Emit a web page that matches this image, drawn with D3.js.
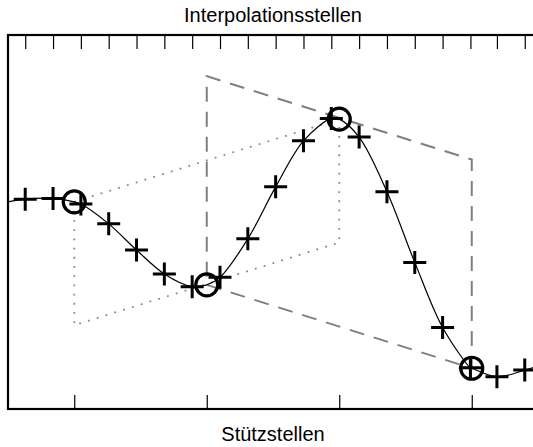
<!DOCTYPE html>
<html>
<head>
<meta charset="utf-8">
<script src="https://cdn.jsdelivr.net/npm/d3@7"></script>
<style>
  body { margin: 0; background: #fff; }
  text { font-family: 'Liberation Sans', Arial, sans-serif; }
</style>
</head>
<body>
<div id="chart"></div>
<script>
// Stützstellen (nodes) and values
let nodeX = [1, 2, 3, 4]
let nodeY = [5.54, 3.32, 7.75, 1.09]

// Interpolationsstellen (+ markers), also the top tick positions
let plusX = [0.63, 0.84, 1.05, 1.26, 1.47, 1.68, 1.89, 2.1, 2.31, 2.52, 2.73, 2.94, 3.15, 3.36, 3.57, 3.78, 3.99, 4.19, 4.4]
let plusY = [5.61, 5.63, 5.48, 4.95, 4.25, 3.61, 3.27, 3.52, 4.55, 5.94, 7.17, 7.77, 7.27, 5.81, 3.92, 2.18, 1.1, 0.86, 1.04]

// curve values at the plot edges
let edgeX = [0.5, 4.5]
let edgeY = [5.54, 1.15]

// parallelogram offsets (dotted below nodes 1-3, dashed above nodes 2-4)
let dottedShift = -3.3
let dashedShift = 5.58

let width = 533
let height = 447
let margin = { top: 35, left: 8, right: -5, bottom: 38 }

let svg = d3
  .select('#chart')
  .append('svg')
  .attr('width', width)
  .attr('height', height)

let x = d3
  .scaleLinear()
  .domain([0.5, 4.5])
  .range([margin.left, width - margin.right])

let y = d3
  .scaleLinear()
  .domain([0, 10])
  .range([height - margin.bottom, margin.top])

let line = d3
  .line()
  .x(d => x(d[0]))
  .y(d => y(d[1]))

// parallelograms
let dotted = [
  [nodeX[0], nodeY[0]],
  [nodeX[2], nodeY[2]],
  [nodeX[2], nodeY[2] + dottedShift],
  [nodeX[0], nodeY[0] + dottedShift],
  [nodeX[0], nodeY[0]]
]
let dashed = [
  [nodeX[1], nodeY[1]],
  [nodeX[3], nodeY[3]],
  [nodeX[3], nodeY[3] + dashedShift],
  [nodeX[1], nodeY[1] + dashedShift],
  [nodeX[1], nodeY[1]]
]

svg
  .append('path')
  .attr('d', line(dotted))
  .attr('fill', 'none')
  .attr('stroke', '#888')
  .attr('stroke-width', 1.8)
  .attr('stroke-dasharray', '1.8,7.4')

svg
  .append('path')
  .attr('d', line(dashed))
  .attr('fill', 'none')
  .attr('stroke', '#7f7f7f')
  .attr('stroke-width', 2)
  .attr('stroke-dasharray', '15,10')

// interpolating curve through all points
let curvePts = edgeX
  .map((d, i) => [d, edgeY[i]])
  .concat(nodeX.map((d, i) => [d, nodeY[i]]))
  .concat(plusX.map((d, i) => [d, plusY[i]]))
  .sort((a, b) => a[0] - b[0])

svg
  .append('path')
  .attr('d', line.curve(d3.curveCatmullRom.alpha(0.5))(curvePts))
  .attr('fill', 'none')
  .attr('stroke', 'black')
  .attr('stroke-width', 1.2)

// + markers
svg
  .selectAll('.plus')
  .data(plusX.map((d, i) => [d, plusY[i]]))
  .enter()
  .append('path')
  .attr('class', 'plus')
  .attr('d', 'M-11.5,0H11.5M0,-11.5V11.5')
  .attr('transform', d => `translate(${x(d[0])},${y(d[1])})`)
  .attr('stroke', 'black')
  .attr('stroke-width', 3)

// circle markers
svg
  .selectAll('.node')
  .data(nodeX.map((d, i) => [d, nodeY[i]]))
  .enter()
  .append('circle')
  .attr('class', 'node')
  .attr('cx', d => x(d[0]))
  .attr('cy', d => y(d[1]))
  .attr('r', 11)
  .attr('fill', 'none')
  .attr('stroke', 'black')
  .attr('stroke-width', 3.2)

// axes: ticks point inward
let topAxis = svg
  .append('g')
  .attr('transform', `translate(0,${margin.top})`)
  .call(d3.axisTop(x).tickValues(plusX).tickSize(-14).tickFormat(''))

let bottomAxis = svg
  .append('g')
  .attr('transform', `translate(0,${height - margin.bottom})`)
  .call(d3.axisBottom(x).tickValues(nodeX).tickSize(-14).tickFormat(''))

topAxis.select('.domain').remove()
bottomAxis.select('.domain').remove()
svg.selectAll('.tick line').attr('stroke', 'black').attr('stroke-width', 1.2)

// frame
svg
  .append('rect')
  .attr('x', x(0.5))
  .attr('y', y(10))
  .attr('width', x(4.5) - x(0.5))
  .attr('height', y(0) - y(10))
  .attr('fill', 'none')
  .attr('stroke', 'black')
  .attr('stroke-width', 2.2)

// labels
svg
  .append('text')
  .text('Interpolationsstellen')
  .attr('x', (x(0.5) + x(4.5)) / 2)
  .attr('y', 22)
  .attr('text-anchor', 'middle')
  .attr('font-size', 20)

svg
  .append('text')
  .text('Stützstellen')
  .attr('x', (x(0.5) + x(4.5)) / 2)
  .attr('y', 441)
  .attr('text-anchor', 'middle')
  .attr('font-size', 20)
</script>
</body>
</html>
